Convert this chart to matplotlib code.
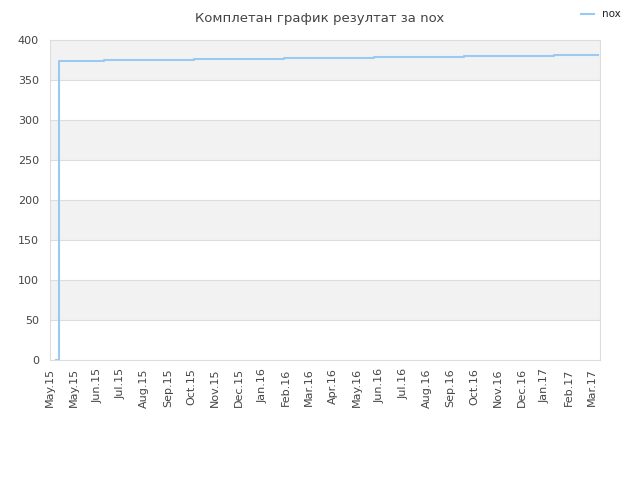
import matplotlib
matplotlib.use('Agg')
import matplotlib.pyplot as plt

# data (x = days since 1 May 2015)
days = [7, 10, 11, 69, 183, 298, 412, 527, 642, 697]
nox = [0, 0, 374, 375.5, 376.5, 378, 379, 380.5, 381.5, 381.5]
tick_labels = ['May.15', 'May.15', 'Jun.15', 'Jul.15', 'Aug.15', 'Sep.15', 'Oct.15',
               'Nov.15', 'Dec.15', 'Jan.16', 'Feb.16', 'Mar.16', 'Apr.16', 'May.16',
               'Jun.16', 'Jul.16', 'Aug.16', 'Sep.16', 'Oct.16', 'Nov.16', 'Dec.16',
               'Jan.17', 'Feb.17', 'Mar.17']

line_color = '#99c9f5'
text_color = '#444444'

fig = plt.figure(figsize=(6.4, 4.8), dpi=100)
ax = fig.add_axes([50 / 640, 120 / 480, 550 / 640, 320 / 480])

# alternating bands
for lo in range(0, 400, 50):
    if (lo // 50) % 2 == 1:
        ax.axhspan(lo, lo + 50, color='#f2f2f2', lw=0, zorder=0)
for y in range(50, 400, 50):
    ax.axhline(y, color='#dddddd', lw=0.8, zorder=1)

ax.step(days, nox, where='post', color=line_color, lw=1.5, zorder=3, label='nox')

ax.set_xlim(0, 700)
ax.set_ylim(0, 400)
ax.set_xticks([30 * i for i in range(len(tick_labels))])
ax.set_xticklabels(tick_labels, rotation=90, fontsize=8, color=text_color)
ax.set_yticks(range(0, 401, 50))
ax.tick_params(axis='y', labelsize=8, labelcolor=text_color, length=0, pad=8)
ax.tick_params(axis='x', length=0, pad=6)
for s in ax.spines.values():
    s.set_color('#dddddd')

fig.text(0.5, 0.975, 'Комплетан график резултат за nox', ha='center', va='top',
         fontsize=9.5, color=text_color)
fig.legend(loc='upper right', bbox_to_anchor=(0.985, 1.0), frameon=False,
           fontsize=7.5, handlelength=1.2, labelcolor='#222222')

fig.savefig('out.png', dpi=100)
